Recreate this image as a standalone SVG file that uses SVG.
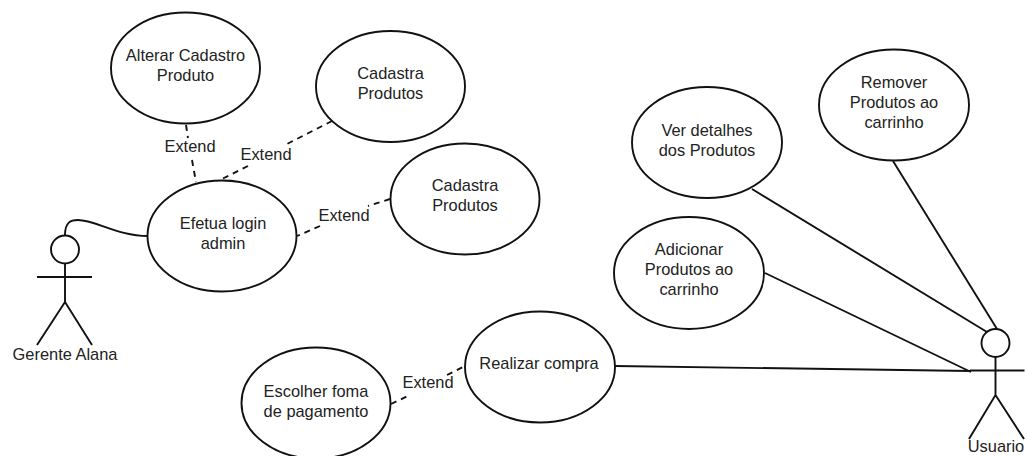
<svg xmlns="http://www.w3.org/2000/svg" width="1027" height="456" viewBox="0 0 1027 456">
<style>
text{font-family:"Liberation Sans",Arial,sans-serif;font-size:16.4px;fill:#222;text-anchor:middle}
.s{fill:none;stroke:#111;stroke-width:1.9}
.e{fill:#fff;stroke:#111;stroke-width:1.9}
.d{fill:none;stroke:#111;stroke-width:1.9;stroke-dasharray:6 5}
</style>
<rect width="1027" height="456" fill="#fff"/>
<g id="connectors">
<path class="s" d="M65 235C65 222 71 220 78 220C95 220 118 236 148 236"/>
<path class="s" d="M752 189L987 332"/>
<path class="s" d="M893 161L997 329"/>
<path class="s" d="M765 273L971 372"/>
<path class="s" d="M615 366L971 371"/>
<path class="d" d="M186 125L188 138"/>
<path class="d" d="M192 160L196 182"/>
<path class="d" d="M332 121L287 144"/>
<path class="d" d="M248 166L222 179"/>
<path class="d" d="M390 199L368 206"/>
<path class="d" d="M320 226L297 236"/>
<path class="d" d="M391 404L410 395"/>
<path class="d" d="M447 375L465 366"/>
<text x="190" y="152">Extend</text>
<text x="266" y="160">Extend</text>
<text x="344" y="221">Extend</text>
<text x="428" y="388">Extend</text>
</g>
<g id="alterar"><ellipse class="e" cx="185.500" cy="68" rx="74.500" ry="55.500"/><text x="185.500" y="61">Alterar Cadastro</text><text x="185.500" y="81">Produto</text></g>
<g id="cadastra1"><ellipse class="e" cx="390.500" cy="86.500" rx="74.500" ry="55.500"/><text x="390.500" y="79">Cadastra</text><text x="390.500" y="99">Produtos</text></g>
<g id="cadastra2"><ellipse class="e" cx="465" cy="199" rx="74.500" ry="55.500"/><text x="465" y="191">Cadastra</text><text x="465" y="211">Produtos</text></g>
<g id="efetua"><ellipse class="e" cx="222" cy="236" rx="74.500" ry="55.500"/><text x="223" y="229">Efetua login</text><text x="223" y="249">admin</text></g>
<g id="escolher"><ellipse class="e" cx="316" cy="403" rx="74.500" ry="55.500"/><text x="316" y="397">Escolher foma</text><text x="316" y="417">de pagamento</text></g>
<g id="realizar"><ellipse class="e" cx="540" cy="367" rx="75" ry="55.500"/><text x="539" y="369">Realizar compra</text></g>
<g id="ver"><ellipse class="e" cx="707" cy="142.500" rx="75" ry="55.500"/><text x="707" y="136">Ver detalhes</text><text x="707" y="156">dos Produtos</text></g>
<g id="remover"><ellipse class="e" cx="894" cy="105" rx="75" ry="55.500"/><text x="894" y="88">Remover</text><text x="894" y="108">Produtos ao</text><text x="894" y="128">carrinho</text></g>
<g id="adicionar"><ellipse class="e" cx="689" cy="273" rx="75" ry="56"/><text x="689" y="255">Adicionar</text><text x="689" y="275">Produtos ao</text><text x="689" y="295">carrinho</text></g>
<g id="gerente"><circle class="s" cx="65" cy="249.500" r="14"/><path class="s" d="M65 264V302M37 277H92M37 345L65 302L92 345"/><text x="65" y="360">Gerente Alana</text></g>
<g id="usuario"><circle class="s" cx="995.500" cy="343" r="14"/><path class="s" d="M995.500 357V395M970 370.500H1024.500M969 439L995.500 395L1024 439"/><text x="996" y="452">Usuario</text></g>
</svg>
